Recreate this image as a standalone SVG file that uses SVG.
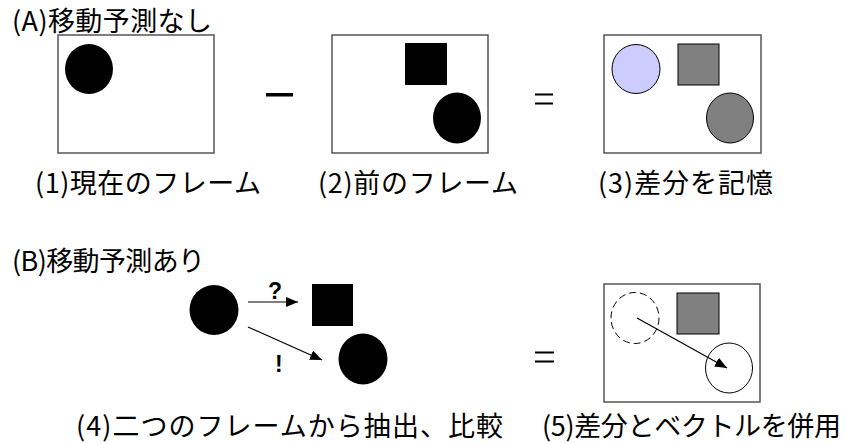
<svg xmlns="http://www.w3.org/2000/svg" width="847" height="443" viewBox="0 0 847 443">
<defs>
<style>
.lbl{font-family:"Noto Sans CJK JP","Noto Sans",sans-serif;font-size:27px;fill:#000}
.frame{fill:#fff;stroke:#555;stroke-width:1.5}
.blk{fill:#000}
.gray{fill:#808080;stroke:#000;stroke-width:1}
.mark{font-family:"Liberation Sans",sans-serif;font-weight:bold;font-size:23px;fill:#000}
.conn{stroke:#000;stroke-width:1.2;fill:none}
</style>
<marker id="ah" markerWidth="12" markerHeight="10" refX="12" refY="5" orient="auto" markerUnits="userSpaceOnUse">
<path d="M0,0 L12,5 L0,10 Z" fill="#000"/>
</marker>
</defs>
<rect width="847" height="443" fill="#fff"/>

<g id="titleA"><text class="lbl" x="12" y="31" textLength="200" lengthAdjust="spacing">(A)移動予測なし</text></g>

<g id="frame1">
<rect class="frame" x="58" y="35" width="156" height="118"/>
<ellipse class="blk" cx="89" cy="69" rx="24" ry="25"/>
<text class="lbl" x="35" y="193" textLength="226" lengthAdjust="spacing">(1)現在のフレーム</text>
</g>

<g id="minus"><rect x="266" y="93" width="27" height="3.5" fill="#000"/></g>

<g id="frame2">
<rect class="frame" x="332" y="35" width="156" height="118"/>
<rect class="blk" x="405" y="43" width="42" height="42"/>
<ellipse class="blk" cx="457" cy="118" rx="24" ry="25.5"/>
<text class="lbl" x="318" y="193" textLength="200" lengthAdjust="spacing">(2)前のフレーム</text>
</g>

<g id="eq1"><rect x="535" y="93.5" width="18" height="2" fill="#000"/><rect x="535" y="102.5" width="18" height="2" fill="#000"/></g>

<g id="frame3">
<rect class="frame" x="604" y="35" width="157" height="118"/>
<ellipse cx="636" cy="69" rx="24" ry="24.5" fill="#ccccff" stroke="#000" stroke-width="1"/>
<rect class="gray" x="678" y="44" width="41" height="41"/>
<ellipse class="gray" cx="730" cy="118" rx="23.5" ry="25"/>
<text class="lbl" x="598" y="193" textLength="175" lengthAdjust="spacing">(3)差分を記憶</text>
</g>

<g id="titleB"><text class="lbl" x="12" y="271" textLength="193" lengthAdjust="spacing">(B)移動予測あり</text></g>

<g id="group4">
<ellipse class="blk" cx="214" cy="310" rx="24.5" ry="25"/>
<rect class="blk" x="312" y="284" width="41" height="42"/>
<ellipse class="blk" cx="363" cy="359" rx="24.5" ry="25.5"/>
<text class="mark" x="268" y="299">?</text>
<text class="mark" x="275" y="372">!</text>
<text class="lbl" x="76" y="436" textLength="427" lengthAdjust="spacing">(4)二つのフレームから抽出、比較</text>
</g>

<g id="eq2"><rect x="535" y="351.5" width="19" height="2" fill="#000"/><rect x="535" y="360.5" width="19" height="2" fill="#000"/></g>

<g id="frame5">
<rect class="frame" x="604" y="284" width="156" height="118"/>
<ellipse cx="635" cy="318" rx="24" ry="25.5" fill="none" stroke="#000" stroke-width="1" stroke-dasharray="7,4"/>
<rect class="gray" x="677" y="293" width="42" height="41"/>
<ellipse cx="729" cy="368" rx="23.5" ry="25" fill="none" stroke="#000" stroke-width="1"/>
<text class="lbl" x="542" y="436" textLength="299" lengthAdjust="spacing">(5)差分とベクトルを併用</text>
</g>

<g id="connectors">
<line class="conn" x1="248" y1="302" x2="298" y2="302" marker-end="url(#ah)"/>
<line class="conn" x1="248" y1="327" x2="322" y2="360" marker-end="url(#ah)"/>
<line class="conn" x1="637" y1="318" x2="727" y2="368" marker-end="url(#ah)"/>
</g>
</svg>
